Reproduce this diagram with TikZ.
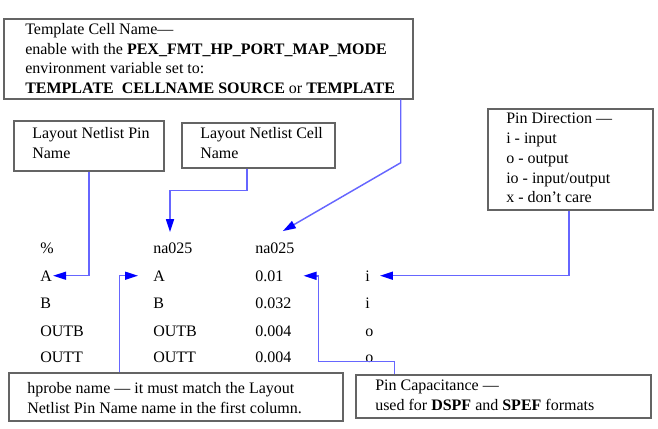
\documentclass[tikz,border=0pt]{standalone}
\usepackage{fontspec}
\setmainfont{Liberation Serif}
\usetikzlibrary{arrows.meta,calc,fit}
\definecolor{linkblue}{RGB}{102,102,255}
\definecolor{boxgray}{RGB}{100,100,100}
\begin{document}
\begin{tikzpicture}[x=0.75pt,y=-0.75pt,
  box/.style={draw=boxgray,line width=1.1pt,inner sep=0pt},
  txt/.style={anchor=north west,align=left,inner sep=0pt,font=\fontsize{12}{14.8}\selectfont},
  cell/.style={anchor=base west,inner sep=0pt,font=\fontsize{12}{14.8}\selectfont},
  conn/.style={draw=linkblue,line width=1.1pt,-{Triangle[length=9.75pt,width=6pt,color=blue]}}]
\useasboundingbox (0,0) rectangle (658,429);
% boxes
\node[box,fit={(4,19) (413,99)}] (tbox) {};
\node[box,fit={(14,121) (164,171)}] (pnbox) {};
\node[box,fit={(182,123) (335,168)}] (cnbox) {};
\node[box,fit={(488,109) (653,210)}] (pdbox) {};
\node[box,fit={(9,373) (343,421)}] (hpbox) {};
\node[box,fit={(356,375) (651,418)}] (pcbox) {};
% box texts
\node[txt] (ttxt) at (25,23) {Template Cell Name---\\enable with the \textbf{PEX\_FMT\_HP\_PORT\_MAP\_MODE}\\environment variable set to:\\\textbf{TEMPLATE\ \ CELLNAME SOURCE} or \textbf{TEMPLATE}};
\node[txt] (pntxt) at (32,127) {Layout Netlist Pin\\Name};
\node[txt] (cntxt) at (200,127) {Layout Netlist Cell\\Name};
\node[txt] (pdtxt) at (506,113) {Pin Direction ---\\i - input\\o - output\\io - input/output\\x - don't care};
\node[txt] (hptxt) at (27,382) {hprobe name --- it must match the Layout\\Netlist Pin Name name in the first column.};
\node[txt] (pctxt) at (375,380) {Pin Capacitance ---\\used for \textbf{DSPF} and \textbf{SPEF} formats};
% table
\node[cell] (r0a) at (40,253) {\%};
\node[cell] (r0b) at (153,253) {na025};
\node[cell] (r0c) at (255,253) {na025};
\node[cell] (r1a) at (40,281) {A};
\node[cell] (r1b) at (153,281) {A};
\node[cell] (r1c) at (255,281) {0.01};
\node[cell] (r1d) at (365,281) {i};
\node[cell] (r2a) at (40,308) {B};
\node[cell] (r2b) at (153,308) {B};
\node[cell] (r2c) at (255,308) {0.032};
\node[cell] (r2d) at (365,308) {i};
\node[cell] (r3a) at (40,336) {OUTB};
\node[cell] (r3b) at (153,336) {OUTB};
\node[cell] (r3c) at (255,336) {0.004};
\node[cell] (r3d) at (365,336) {o};
\node[cell] (r4a) at (40,362) {OUTT};
\node[cell] (r4b) at (153,362) {OUTT};
\node[cell] (r4c) at (255,362) {0.004};
\node[cell] (r4d) at (365,362) {o};
% connectors
\draw[conn] (pnbox.south) |- ($(r1a.east)+(1,0)$);
\draw[conn] ($(cnbox.south)+(-11.5,0)$) -- ++(0,22) -| ($(r0b.north west)+(17,-10)$);
\draw[conn] ($(tbox.south east)+(-13,0)$) -- ++(0,63) -- ($(r0c.north)+(8,-11)$);
\draw[conn] ($(pdbox.south)+(-1.5,0)$) |- ($(r1d.east)+(10,0)$);
\draw[conn] ($(hpbox.north west)+(111,0)$) |- ($(r1b.west)+(-15,0)$);
\draw[conn] ($(pcbox.north west)+(39,0)$) -- ++(0,-13) -| ($(r1c.east)+(35,0)$) -- ($(r1c.east)+(20,0)$);
\end{tikzpicture}
\end{document}
